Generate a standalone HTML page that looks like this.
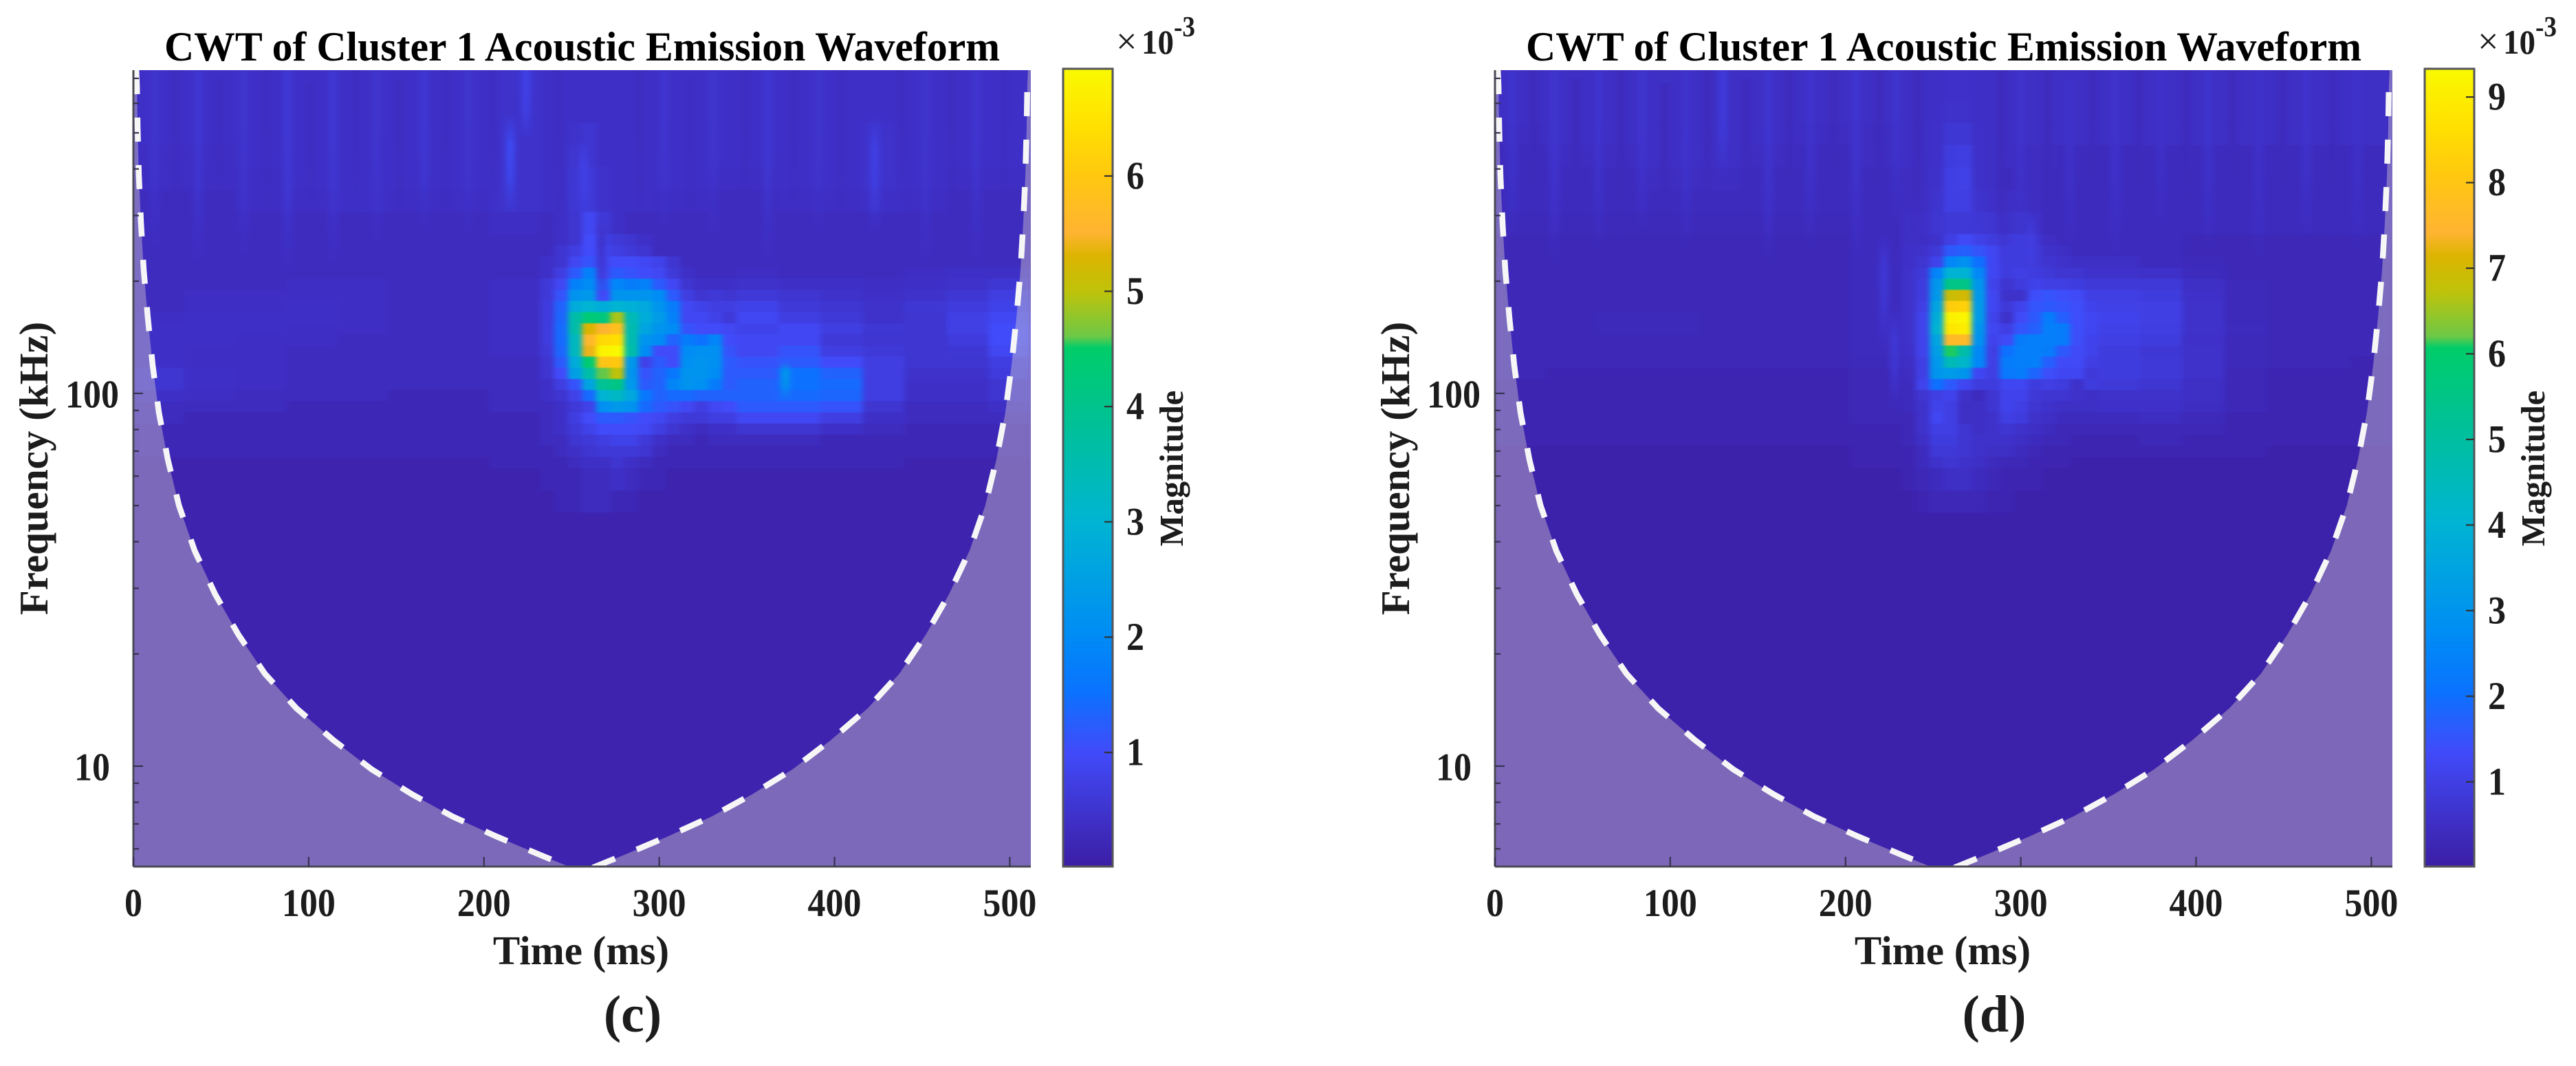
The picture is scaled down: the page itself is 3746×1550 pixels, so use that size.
<!DOCTYPE html>
<html lang="en">
<head>
<meta charset="utf-8">
<title>CWT of Cluster 1 Acoustic Emission Waveform</title>
<style>
html,body{margin:0;padding:0;background:#fff;}
svg{display:block;}
text{font-family:"Liberation Serif",serif;fill:#1c1c1c;}
</style>
</head>
<body>
<svg id="figure" xmlns="http://www.w3.org/2000/svg" width="3746" height="1550" viewBox="0 0 3746 1550">
<rect x="0" y="0" width="3746" height="1550" fill="#ffffff"/>
</svg>
<script>
// Time cell edges (ms)
var timeEdges=[0,29,58,87,116,145,174,203,232,240,248,256,264,272,280,288,296,304,312,320,328,336,344,368,392,416,440,464,488,512];
// Frequency cell edges (kHz), top to bottom
var freqEdges=[736.5,611,532.3,463.9,404.2,352.3,306.9,267.5,249.7,233.1,217.6,203.1,189.6,177,165.2,154.2,144,134.4,125.5,117.1,109.3,102.1,95.3,88.9,83,77.5,72.3,67.5,63,54.9,47.9,5.38];
// Panel (c) magnitude x 10^-3: one row per frequency band, one value per time cell
var magnitudeC=[
[.4,.4,.4,.4,.4,.4,.4,.45,.4,.4,.4,.4,.4,.4,.4,.4,.4,.4,.4,.4,.4,.4,.4,.4,.4,.4,.4,.4,.4],
[.4,.4,.4,.4,.4,.4,.4,.45,.4,.4,.4,.4,.4,.4,.4,.4,.4,.4,.4,.4,.4,.4,.4,.4,.4,.4,.4,.4,.4],
[.4,.4,.4,.4,.4,.4,.4,.45,.4,.4,.45,.5,.4,.4,.4,.4,.4,.4,.4,.4,.4,.4,.4,.4,.4,.45,.4,.4,.4],
[.35,.35,.4,.4,.4,.4,.4,.45,.4,.4,.5,.5,.4,.4,.4,.4,.4,.4,.4,.4,.4,.4,.4,.4,.4,.45,.4,.4,.4],
[.35,.35,.35,.4,.4,.4,.4,.45,.4,.4,.55,.6,.45,.4,.4,.4,.4,.4,.4,.4,.35,.35,.35,.4,.4,.45,.4,.35,.35],
[.3,.3,.35,.35,.4,.35,.35,.45,.4,.4,.55,.6,.45,.4,.4,.4,.35,.35,.35,.35,.3,.3,.3,.35,.35,.4,.35,.3,.3],
[.3,.3,.3,.3,.3,.3,.3,.35,.3,.4,.5,.9,.6,.4,.3,.3,.3,.3,.3,.3,.3,.3,.3,.3,.3,.3,.3,.3,.3],
[.3,.3,.3,.3,.3,.3,.3,.3,.3,.4,.5,1,.8,.6,.5,.4,.3,.3,.3,.3,.3,.3,.3,.3,.3,.3,.3,.3,.3],
[.3,.3,.3,.3,.3,.3,.3,.3,.3,.5,.7,1,.9,.7,.6,.5,.3,.3,.3,.3,.3,.3,.3,.3,.3,.3,.3,.3,.3],
[.3,.3,.3,.3,.3,.3,.3,.3,.4,.5,.9,1.1,.9,1,1,.9,.8,.5,.3,.3,.3,.3,.3,.3,.3,.3,.3,.3,.3],
[.3,.3,.3,.3,.3,.3,.3,.3,.4,.7,1.2,1.8,.9,1.2,1.1,1,.9,.6,.4,.3,.3,.3,.35,.3,.3,.3,.35,.4,.4],
[.3,.3,.3,.35,.35,.3,.3,.35,.6,.9,1.8,2,1.2,1.9,1.7,1.8,1.2,.9,.5,.4,.4,.4,.45,.4,.4,.35,.4,.45,.55],
[.3,.35,.35,.35,.35,.3,.3,.35,.6,1.1,2.2,2.3,1,2.2,2.2,2.2,2,1.2,.7,.5,.6,.5,.6,.5,.45,.4,.45,.55,.7],
[.3,.35,.35,.4,.35,.3,.3,.35,.65,1.3,2.8,3,2.8,3,2.9,2.7,2.2,1.7,.9,.8,.7,.7,.8,.6,.5,.45,.55,.65,.8],
[.35,.4,.4,.4,.35,.3,.3,.35,.65,1.35,3.6,4.3,4.2,4.9,3.4,2.8,2.4,1.8,.9,.9,.8,.6,.9,.7,.6,.45,.5,.75,.9],
[.4,.4,.4,.35,.35,.3,.3,.35,.65,1.4,3.6,5.3,5.5,5.8,3.5,2.6,2.2,2,1.1,1,1,.9,.8,.9,.7,.55,.5,.75,1],
[.4,.4,.35,.35,.3,.3,.3,.35,.65,1.4,3.3,5.6,6.3,6.4,3.5,2.2,2,1.3,1.7,1.5,1.9,1,.9,.9,.6,.5,.5,.65,1],
[.4,.35,.35,.3,.3,.3,.3,.35,.6,1.35,3.3,5.4,6.8,6.9,3.6,2,1,1,2,2.1,2.1,1.1,.9,1.1,.7,.6,.5,.55,.9],
[.4,.35,.35,.3,.3,.3,.3,.3,.5,1.2,2.8,4.4,5.9,6,2.3,.8,1.2,1,2.1,2.2,2.1,1.2,1.1,1.2,1,.7,.5,.5,.7],
[.5,.4,.35,.3,.3,.3,.3,.3,.5,1,2.5,3.6,4.6,5,2.2,1.1,1.3,1.6,2.2,2.2,2,1.2,1.2,1.5,1.3,.7,.45,.45,.65],
[.5,.4,.35,.3,.3,.3,.3,.3,.4,.7,1.1,2.6,3.9,4.1,2.3,1.2,1.3,1.9,2.2,2.1,1.7,1.2,1.3,1.5,1.4,.7,.4,.4,.5],
[.4,.35,.3,.3,.3,.2,.2,.3,.4,.5,.8,1.4,3,3.2,2.7,1.6,1.3,1.4,1.4,1.3,1.3,1.3,1.3,1.4,1.35,.7,.4,.4,.5],
[.3,.3,.3,.2,.2,.2,.2,.3,.3,.4,.6,.8,2.1,2.3,2.2,1.4,1.2,1.1,.9,.7,.9,1,1.2,1.2,1.1,.5,.3,.3,.4],
[.3,.2,.2,.2,.2,.2,.2,.2,.3,.4,.7,1,1.2,1.2,1.1,1,.9,.7,.6,.6,.7,.7,.9,.9,.7,.4,.3,.3,.3],
[.2,.2,.2,.2,.2,.2,.2,.2,.3,.4,.6,.8,1,1,1,.9,.7,.5,.4,.3,.4,.4,.5,.5,.4,.3,.2,.2,.2],
[.2,.2,.2,.2,.2,.2,.2,.2,.3,.3,.5,.6,.7,.8,.8,.6,.4,.3,.3,.2,.3,.3,.3,.3,.2,.2,.2,.2,.2],
[.2,.2,.2,.2,.2,.2,.2,.2,.2,.3,.4,.5,.6,.6,.6,.5,.3,.2,.2,.2,.2,.2,.2,.2,.2,.2,.2,.2,.2],
[.1,.1,.1,.1,.1,.1,.1,.2,.2,.2,.3,.4,.4,.5,.4,.3,.2,.2,.2,.2,.2,.2,.2,.2,.2,.2,.1,.1,.1],
[.1,.1,.1,.1,.1,.1,.1,.1,.2,.2,.2,.3,.3,.4,.3,.2,.2,.1,.1,.1,.1,.1,.1,.1,.1,.1,.1,.1,.1],
[.1,.1,.1,.1,.1,.1,.1,.1,.1,.2,.2,.3,.3,.2,.2,.1,.1,.1,.1,.1,.1,.1,.1,.1,.1,.1,.1,.1,.1],
[.1,.1,.1,.1,.1,.1,.1,.1,.1,.1,.1,.1,.1,.1,.1,.1,.1,.1,.1,.1,.1,.1,.1,.1,.1,.1,.1,.1,.1]
];
// Panel (d) magnitude x 10^-3
var magnitudeD=[
[.5,.5,.5,.5,.5,.5,.5,.5,.5,.5,.5,.55,.55,.5,.5,.5,.5,.5,.5,.5,.5,.5,.5,.5,.5,.5,.5,.5,.5],
[.5,.5,.5,.5,.5,.5,.5,.5,.5,.5,.5,.6,.6,.5,.5,.5,.5,.5,.5,.5,.5,.5,.5,.5,.5,.5,.5,.5,.5],
[.45,.5,.5,.5,.5,.5,.45,.45,.5,.5,.55,.75,.75,.55,.5,.5,.5,.5,.5,.5,.5,.5,.5,.5,.5,.5,.5,.5,.5],
[.4,.45,.45,.5,.5,.45,.4,.45,.5,.5,.55,.9,.95,.6,.5,.5,.4,.45,.45,.4,.4,.4,.4,.4,.4,.4,.4,.4,.4],
[.4,.4,.4,.45,.45,.4,.4,.4,.45,.5,.6,1,1.05,.6,.5,.4,.45,.45,.4,.4,.4,.4,.4,.4,.4,.4,.4,.4,.4],
[.4,.4,.4,.4,.4,.4,.4,.4,.45,.5,.65,1,1,.7,.55,.5,.5,.45,.4,.4,.4,.4,.4,.4,.4,.4,.4,.4,.4],
[.35,.35,.35,.35,.35,.35,.35,.4,.5,.55,.7,.8,.8,.8,.7,.6,.65,.55,.4,.4,.4,.4,.4,.4,.4,.4,.4,.4,.4],
[.3,.3,.3,.3,.3,.3,.3,.4,.5,.5,.6,1,1.3,1.1,.9,.8,.9,.7,.5,.4,.4,.4,.4,.4,.3,.3,.3,.3,.3],
[.3,.3,.3,.3,.3,.3,.3,.4,.55,.6,.8,1.6,1.7,1.5,1.2,.9,.9,.8,.6,.5,.4,.4,.4,.4,.3,.3,.3,.3,.3],
[.3,.3,.3,.3,.3,.3,.3,.4,.55,.7,1.1,2.6,2.9,2,1.2,.9,.9,.8,.7,.6,.5,.5,.5,.4,.35,.3,.3,.3,.3],
[.3,.3,.3,.3,.3,.3,.3,.4,.6,.8,2.5,4,4,2.6,1.2,.9,1,.9,.8,.7,.7,.6,.6,.55,.4,.3,.3,.3,.3],
[.3,.3,.3,.3,.3,.3,.3,.4,.6,.9,3,5.5,5.5,3,1.1,.7,.9,1.1,1,1,.9,.8,.8,.8,.5,.35,.3,.3,.3],
[.3,.3,.3,.3,.3,.3,.3,.4,.6,.9,3.1,6.9,7,3.1,1.2,.6,.6,1.4,1.5,1.4,1.3,1,1,.9,.55,.35,.3,.3,.3],
[.3,.3,.3,.3,.3,.3,.3,.4,.6,1,3.5,8.2,8.3,3.2,1.2,.8,1.1,1.5,1.6,1.5,1.4,1.1,1.05,1,.6,.35,.3,.3,.3],
[.3,.3,.35,.35,.3,.3,.3,.4,.6,1.1,3.8,9.1,9.2,3.2,1.1,.6,1.3,1.6,2.3,1.7,1.4,1.2,1.1,1,.6,.35,.3,.3,.3],
[.3,.3,.35,.35,.3,.3,.3,.4,.6,1.1,4,8.8,9,3,1.2,1,1.5,1.7,2.4,2.3,1.4,1.2,1.05,.95,.6,.4,.3,.3,.3],
[.3,.3,.3,.3,.3,.3,.3,.4,.6,1.1,3.5,7.6,7.6,2.9,1.1,1.3,2.3,2.4,2.4,2.3,1.4,1.1,1,.9,.55,.35,.3,.3,.3],
[.3,.3,.3,.3,.3,.3,.3,.4,.55,1.1,3.3,6.1,4.8,2.6,1,2,2.4,2.4,2.3,1.6,1.3,1.1,.9,.75,.6,.35,.3,.3,.3],
[.3,.3,.3,.3,.3,.3,.3,.35,.5,1,3.1,4.6,4.2,2.6,1,2.3,2.4,2.4,1.7,1.3,1.3,1,.9,.8,.6,.35,.3,.3,.2],
[.3,.2,.2,.2,.2,.2,.2,.3,.45,1,3,3.2,3,1.2,1,2.2,2.3,1.8,1.4,1.2,1.2,.8,.9,.8,.6,.3,.2,.2,.2],
[.2,.2,.2,.2,.2,.2,.2,.3,.4,1.1,2,1.6,1.2,.9,.9,1.2,1.2,.9,1,.9,.6,.9,.8,.7,.5,.3,.2,.2,.2],
[.2,.2,.2,.2,.2,.2,.2,.3,.4,.7,1,1.1,.6,.4,.7,1.1,1.1,.8,.7,.7,.6,.5,.6,.6,.5,.3,.2,.2,.2],
[.2,.2,.2,.2,.2,.2,.2,.3,.4,.6,1.1,1,.5,.5,.7,1.1,1,.7,.6,.5,.5,.5,.55,.55,.45,.3,.2,.2,.2],
[.2,.2,.2,.2,.2,.2,.2,.3,.3,.6,1.2,1,.5,.5,.6,1,.9,.6,.5,.4,.4,.4,.4,.45,.35,.2,.2,.2,.2],
[.2,.2,.2,.2,.2,.2,.2,.2,.3,.6,1,1,.7,.5,.6,.7,.6,.5,.4,.3,.3,.3,.3,.3,.3,.2,.2,.2,.2],
[.2,.2,.2,.2,.2,.2,.2,.2,.3,.5,.9,.9,.7,.6,.6,.6,.5,.4,.3,.3,.2,.2,.2,.3,.2,.2,.2,.2,.2],
[.1,.1,.1,.1,.1,.1,.1,.2,.2,.4,.8,.8,.7,.6,.5,.5,.4,.3,.2,.2,.2,.2,.2,.2,.2,.2,.1,.1,.1],
[.1,.1,.1,.1,.1,.1,.1,.2,.2,.4,.6,.7,.6,.5,.4,.3,.3,.2,.2,.2,.1,.1,.1,.1,.1,.1,.1,.1,.1],
[.1,.1,.1,.1,.1,.1,.1,.1,.2,.3,.4,.5,.5,.4,.3,.2,.2,.2,.1,.1,.1,.1,.1,.1,.1,.1,.1,.1,.1],
[.1,.1,.1,.1,.1,.1,.1,.1,.1,.2,.3,.3,.3,.3,.2,.2,.1,.1,.1,.1,.1,.1,.1,.1,.1,.1,.1,.1,.1],
[.1,.1,.1,.1,.1,.1,.1,.1,.1,.1,.1,.1,.1,.1,.1,.1,.1,.1,.1,.1,.1,.1,.1,.1,.1,.1,.1,.1,.1]
];
// Narrow vertical streaks, panel (c): centre time (ms), magnitude, top and bottom frequency (kHz)
var streakTimeC=[12,24,37,49,63,76,88,101,114,127,139,152,166,178,191,205,224,215,242,257,267,289,303,318,331,349,362,377,391,404,423,438,452,467,481,497,372];
var streakMagC=[.5,.3,.55,.3,.5,.3,.6,.3,.55,.3,.5,.3,.55,.3,.5,.3,.85,1.05,.3,.8,.4,.3,.5,.3,.5,.3,.55,.3,.5,.3,.8,.3,.5,.3,.5,.3,2.4];
var streakTopC=[736,736,736,700,736,736,736,680,736,736,736,700,736,736,736,736,736,560,736,480,304,736,736,700,736,736,736,736,736,736,560,736,736,736,736,736,122];
var streakBottomC=[240,270,220,300,230,280,210,260,220,290,250,230,270,220,260,280,480,300,250,290,180,230,270,220,260,280,220,250,270,230,270,280,220,250,220,260,96];
// Narrow vertical streaks, panel (d)
var streakTimeD=[10,22,34,46,59,72,84,97,109,121,130,143,156,168,180,193,206,219,229,241,252,277,289,300,315,328,341,354,367,380,394,407,421,436,449,463,478,492,222,228,306];
var streakMagD=[.65,.35,.7,.35,.65,.35,.7,.35,.65,.35,.9,.35,.7,.35,.65,.35,.7,.35,.65,.35,.55,.55,.35,.65,.35,.6,.35,.65,.35,.6,.35,.65,.35,.6,.35,.65,.35,.6,.85,.85,.95];
var streakTopD=[736,736,736,700,736,736,736,680,736,736,736,700,736,736,736,736,736,736,736,736,700,736,736,736,736,700,736,736,736,736,736,736,736,736,736,736,736,736,270,170,310];
var streakBottomD=[260,240,220,280,240,220,270,230,240,290,380,240,220,260,240,280,230,240,290,240,300,240,220,260,210,240,270,230,250,280,210,240,270,220,240,260,230,240,130,90,180];
// Cone of influence (left branch; the right branch mirrors it about the signal centre)
var coiTime=[1.6,2,2.4,3.1,4.3,5.9,8.2,11,14.5,19.6,26,35,46.7,60,75,93,114,136,159,182,207,232,256];
var coiFreq=[736.5,668,515,385,287,214,160,119,89,66.5,50,37.8,28.9,22.5,17.7,14.3,11.75,9.8,8.4,7.33,6.48,5.78,5.2];
// Axis ticks
var xTicks=[0,100,200,300,400,500];
var xTickLabels=['0','100','200','300','400','500'];
var yMajorTicks=[100,10];
var yMajorLabels=['100','10'];
var yMinorTicks=[700,600,500,400,300,200,90,80,70,60,50,40,30,20,9,8,7,6];
// Colour bar ranges and ticks (x 10^-3)
var cbarRangeC=[0.01,6.93];
var cbarTicksC=[1,2,3,4,5,6];
var cbarRangeD=[0.01,9.33];
var cbarTicksD=[1,2,3,4,5,6,7,8,9];
// Colormap stops
var cmapPos=[0,.144,.22,.29,.433,.577,.65,.665,.72,.765,.795,.866,.93,1];
var cmapRed=[60,65,10,0,0,0,0,110,190,220,255,255,255,250];
var cmapGreen=[30,75,115,140,180,195,205,200,195,180,180,200,225,250];
var cmapBlue=[165,250,255,245,210,140,105,70,10,0,50,15,0,0];

var NS='http://www.w3.org/2000/svg';
var TMAX=512,FMAX=736.5,FMIN=5.38;
var PLOT_L=194,PLOT_R=1499,PLOT_T=102,PLOT_B=1260;
var CB_L=1546,CB_R=1618,CB_T=100,CB_B=1260;
var svg=document.getElementById('figure');

function xScale(t,dx){return PLOT_L+dx+(t/TMAX)*(PLOT_R-PLOT_L);}
function yScale(f){return 572+542*Math.log10(100/f);}
function colorOf(t){
  t=Math.max(0,Math.min(1,t));
  for(var i=1;i<cmapPos.length;i++){
    if(t<=cmapPos[i]){
      var a=(t-cmapPos[i-1])/(cmapPos[i]-cmapPos[i-1]);
      return 'rgb('+Math.round(cmapRed[i-1]+a*(cmapRed[i]-cmapRed[i-1]))+','+Math.round(cmapGreen[i-1]+a*(cmapGreen[i]-cmapGreen[i-1]))+','+Math.round(cmapBlue[i-1]+a*(cmapBlue[i]-cmapBlue[i-1]))+')';
    }
  }
  return 'rgb(250,250,0)';
}
function mk(tag,attrs,parent){
  var el=document.createElementNS(NS,tag);
  for(var k in attrs){el.setAttribute(k,attrs[k]);}
  (parent||svg).appendChild(el);
  return el;
}
function label(str,x,y,size,weight,anchor,parent,fitWidth,rotate){
  var el=mk('text',{x:x,y:y,'font-size':size,'font-weight':weight,'text-anchor':anchor},parent);
  if(fitWidth){
    el.setAttribute('textLength',fitWidth);
    el.setAttribute('lengthAdjust','spacingAndGlyphs');
  }
  if(rotate){el.setAttribute('transform','rotate(-90 '+x+' '+y+')');}
  el.textContent=str;
  return el;
}

function drawPanel(id,dx,matrix,range,cbTicks,caption,stTime,stMag,stTop,stBottom){
  var g=mk('g',{});
  
  

  var defs=mk('defs',{},g);
  var clip=mk('clipPath',{id:'clip-'+id},defs);
  mk('rect',{x:PLOT_L+dx,y:PLOT_T,width:PLOT_R-PLOT_L,height:PLOT_B-PLOT_T},clip);
  var filt=mk('filter',{id:'blur-'+id,filterUnits:'userSpaceOnUse',x:PLOT_L+dx-40,y:PLOT_T-20,width:PLOT_R-PLOT_L+80,height:PLOT_B-PLOT_T+40,'color-interpolation-filters':'sRGB'},defs);
  mk('feGaussianBlur',{stdDeviation:'4 0.9'},filt);
  var grad=mk('linearGradient',{id:'cbar-grad-'+id,x1:'0',y1:'1',x2:'0',y2:'0'},defs);
  for(var s=0;s<cmapPos.length;s++){
    mk('stop',{offset:cmapPos[s],'stop-color':colorOf(cmapPos[s])},grad);
  }

  // title
  var title=label('CWT of Cluster 1 Acoustic Emission Waveform',846.5+dx,88,60,'bold','middle',g,1215);
  
  
  title.style.fill='#000';

  // heatmap
  var clipG=mk('g',{'clip-path':'url(#clip-'+id+')'},g);
  
  
  var bg=mk('rect',{x:PLOT_L+dx,y:PLOT_T,width:PLOT_R-PLOT_L,height:PLOT_B-PLOT_T,fill:colorOf(0.1/range[1])},clipG);
  
  
  var cells=mk('g',{filter:'url(#blur-'+id+')'},clipG);
  
  
  for(var r=0;r<matrix.length;r++){
    var y0=yScale(freqEdges[r]),y1=yScale(freqEdges[r+1]);
    for(var c=0;c<matrix[r].length;c++){
      var x0=xScale(timeEdges[c],dx),x1=xScale(timeEdges[c+1],dx);
      var cell=mk('rect',{x:x0.toFixed(1),y:y0.toFixed(1),width:(x1-x0+0.6).toFixed(1),height:(y1-y0+0.6).toFixed(1),fill:colorOf(matrix[r][c]/range[1])},cells);
      
      
    }
  }
  for(var q=0;q<stTime.length;q++){
    var sx0=xScale(stTime[q]-2.5,dx),sx1=xScale(stTime[q]+2.5,dx);
    var sy0=yScale(stTop[q]),sy1=yScale(stBottom[q]);
    var col=colorOf(stMag[q]/range[1]);
    var fade=mk('linearGradient',{id:'streak-'+id+'-'+q,x1:'0',y1:'0',x2:'0',y2:'1'},defs);
    mk('stop',{offset:0,'stop-color':col,'stop-opacity':stTop[q]>=680?0.85:0},fade);
    mk('stop',{offset:0.3,'stop-color':col,'stop-opacity':0.85},fade);
    mk('stop',{offset:0.6,'stop-color':col,'stop-opacity':0.7},fade);
    mk('stop',{offset:1,'stop-color':col,'stop-opacity':0},fade);
    var streak=mk('rect',{x:sx0.toFixed(1),y:sy0.toFixed(1),width:(sx1-sx0).toFixed(1),height:(sy1-sy0).toFixed(1),fill:'url(#streak-'+id+'-'+q+')'},cells);
    
    
  }

  // cone of influence
  var leftPts=[],rightPts=[];
  for(var i=0;i<coiTime.length;i++){
    leftPts.push(xScale(coiTime[i],dx).toFixed(1)+','+yScale(coiFreq[i]).toFixed(1));
  }
  for(var j=coiTime.length-1;j>=0;j--){
    rightPts.push(xScale(TMAX-coiTime[j],dx).toFixed(1)+','+yScale(coiFreq[j]).toFixed(1));
  }
  var shadePts=[xScale(0,dx)+','+yScale(FMAX)].concat(leftPts,rightPts,[xScale(TMAX,dx)+','+yScale(FMAX),xScale(TMAX,dx)+','+yScale(FMIN),xScale(0,dx)+','+yScale(FMIN)]);
  var shade=mk('polygon',{points:shadePts.join(' '),fill:'rgb(221,209,205)','fill-opacity':'0.4'},clipG);
  
  
  var coiLeft=mk('polyline',{points:leftPts.join(' '),fill:'none',stroke:'#f6f6f6','stroke-width':'8.5','stroke-dasharray':'35 34'},clipG);
  
  
  var coiRight=mk('polyline',{points:rightPts.slice().reverse().join(' '),fill:'none',stroke:'#f6f6f6','stroke-width':'8.5','stroke-dasharray':'35 34','stroke-dashoffset':'37'},clipG);
  
  

  // axes
  var axisColor='#37324f';
  var yAxis=mk('line',{x1:PLOT_L+dx,y1:PLOT_T,x2:PLOT_L+dx,y2:PLOT_B,stroke:'#4a4a55','stroke-width':'3'},g);
  
  
  var xAxis=mk('line',{x1:PLOT_L+dx,y1:PLOT_B,x2:PLOT_R+dx,y2:PLOT_B,stroke:'#4a4a55','stroke-width':'3'},g);
  
  
  for(var a=0;a<xTicks.length;a++){
    var xt=xScale(xTicks[a],dx);
    var tk=mk('line',{x1:xt,y1:PLOT_B,x2:xt,y2:PLOT_B-14,stroke:axisColor,'stroke-width':'2.2'},g);
    
    
    var tl=label(xTickLabels[a],xt,1332,57,'bold','middle',g,xTickLabels[a].length*26);
    
    
  }
  for(var b=0;b<yMajorTicks.length;b++){
    var ym=yScale(yMajorTicks[b]);
    var mt=mk('line',{x1:PLOT_L+dx,y1:ym,x2:PLOT_L+dx+14,y2:ym,stroke:axisColor,'stroke-width':'2.2'},g);
    
    
    var ml=label(yMajorLabels[b],134+dx,ym+20.5,57,'bold','middle',g,yMajorLabels[b].length*26);
    
    
  }
  for(var d=0;d<yMinorTicks.length;d++){
    var yn=yScale(yMinorTicks[d]);
    var nt=mk('line',{x1:PLOT_L+dx,y1:yn,x2:PLOT_L+dx+8,y2:yn,stroke:axisColor,'stroke-width':'2.2'},g);
    
    
  }
  var xTitle=label('Time (ms)',845+dx,1402,59,'bold','middle',g);
  
  
  var yTitle=label('Frequency (kHz)',69+dx,681,59,'bold','middle',g,null,true);
  
  

  // colour bar
  var cb=mk('rect',{x:CB_L+dx,y:CB_T,width:CB_R-CB_L,height:CB_B-CB_T,fill:'url(#cbar-grad-'+id+')',stroke:'#55555a','stroke-width':'3'},g);
  
  
  for(var e=0;e<cbTicks.length;e++){
    var yc=CB_B-(cbTicks[e]-range[0])/(range[1]-range[0])*(CB_B-CB_T);
    var ct=mk('line',{x1:CB_R+dx,y1:yc,x2:CB_R+dx-12,y2:yc,stroke:'#33322f','stroke-width':'2.2'},g);
    
    
    var cl=label(String(cbTicks[e]),1638+dx,yc+18.5,57,'bold','start',g,26);
    
    
  }
  var exX=label('\u00D7',1623+dx,78,54,'normal','start',g);
  
  
  var exT=label('10',1660+dx,78,50,'bold','start',g,47);
  
  
  var exP=label('-3',1707+dx,53,42,'bold','start',g,31);
  
  
  var cbTitle=label('Magnitude',1720+dx,681,48.6,'bold','middle',g,null,true);
  
  

  // caption
  var cap=label(caption,920+dx,1500,76,'bold','middle',g);
  
  
}

drawPanel('c',0,magnitudeC,cbarRangeC,cbarTicksC,'(c)',streakTimeC,streakMagC,streakTopC,streakBottomC);
drawPanel('d',1980,magnitudeD,cbarRangeD,cbarTicksD,'(d)',streakTimeD,streakMagD,streakTopD,streakBottomD);
</script>
</body>
</html>
